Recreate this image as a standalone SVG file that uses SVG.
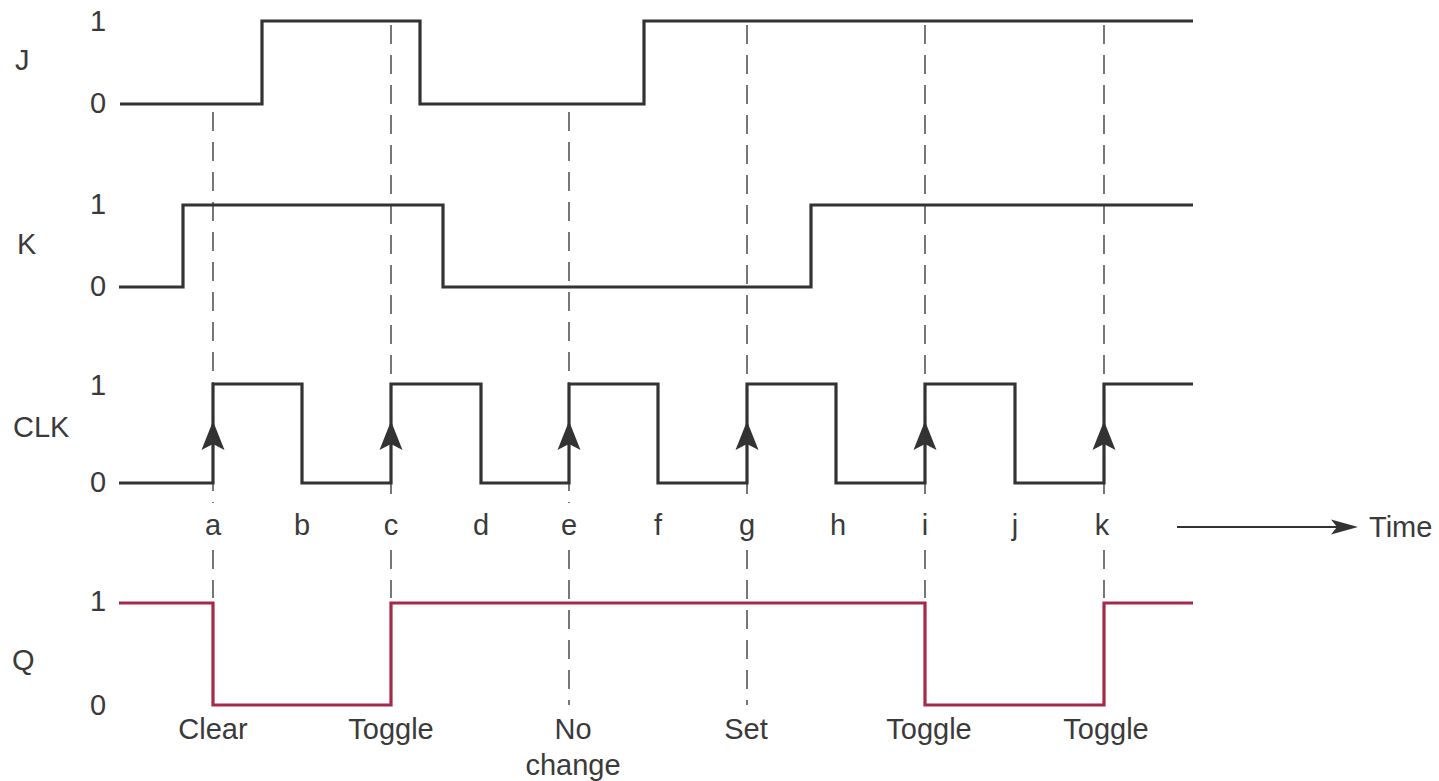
<svg xmlns="http://www.w3.org/2000/svg" width="1439" height="781" viewBox="0 0 1439 781">
<style>
text{font-family:"Liberation Sans",Arial,Helvetica,sans-serif;font-size:29px;fill:#3a3a3a}
.m{text-anchor:middle}
.sig{fill:none;stroke:#333;stroke-width:3.2;stroke-linejoin:miter;stroke-linecap:butt}
.q{fill:none;stroke:#a52a4a;stroke-width:3.2;stroke-linejoin:miter}
.dash{stroke:#555;stroke-width:1.6;stroke-dasharray:19 11;fill:none}
.ah{fill:#333}
</style>
<defs>
<path id="up" d="M0,0 L11.5,29 L0,23 L-11.5,29 Z"/>
</defs>
<rect width="1439" height="781" fill="#fff"/>

<g id="dashes">
<path class="dash" d="M213,112V503M213,550V598"/>
<path class="dash" d="M391,25V503M391,550V598"/>
<path class="dash" d="M569,112V503M569,550V705"/>
<path class="dash" d="M747,25V503M747,550V705"/>
<path class="dash" d="M925,25V503M925,550V598"/>
<path class="dash" d="M1104,25V503M1104,550V598"/>
</g>

<g id="J">
<text x="15" y="70">J</text>
<text class="m" x="98" y="31">1</text>
<text class="m" x="98" y="113">0</text>
<path class="sig" d="M120,104H262V21H420V104H644V21H1193"/>
</g>

<g id="K">
<text x="17" y="254">K</text>
<text class="m" x="98" y="214">1</text>
<text class="m" x="98" y="296">0</text>
<path class="sig" d="M119,287H183V205H443V287H811V205H1193"/>
</g>

<g id="CLK">
<text x="13" y="437">CLK</text>
<text class="m" x="98" y="395">1</text>
<text class="m" x="98" y="492">0</text>
<path class="sig" d="M119,483H213V384H302V483H391V384H481V483H569V384H658V483H747V384H836V483H925V384H1015V483H1104V384H1193"/>
<use class="ah" href="#up" x="213" y="421"/>
<use class="ah" href="#up" x="391" y="421"/>
<use class="ah" href="#up" x="569" y="421"/>
<use class="ah" href="#up" x="747" y="421"/>
<use class="ah" href="#up" x="925" y="421"/>
<use class="ah" href="#up" x="1104" y="421"/>
</g>

<g id="ticks">
<text class="m" x="213" y="535">a</text>
<text class="m" x="302" y="535">b</text>
<text class="m" x="391" y="535">c</text>
<text class="m" x="481" y="535">d</text>
<text class="m" x="569" y="535">e</text>
<text class="m" x="658" y="535">f</text>
<text class="m" x="747" y="535">g</text>
<text class="m" x="838" y="535">h</text>
<text class="m" x="925" y="535">i</text>
<text class="m" x="1015" y="535">j</text>
<text class="m" x="1102" y="535">k</text>
</g>

<g id="time">
<path d="M1177,527H1340" stroke="#333" stroke-width="2" fill="none"/>
<path class="ah" d="M1358,527L1331,519.5L1337,527L1331,534.5Z"/>
<text x="1369" y="537">Time</text>
</g>

<g id="Q">
<text x="12" y="670">Q</text>
<text class="m" x="98" y="611">1</text>
<text class="m" x="98" y="715">0</text>
<path class="q" d="M119,603H213V705H391V603H925V705H1104V603H1193"/>
</g>

<g id="labels">
<text class="m" x="213" y="739">Clear</text>
<text class="m" x="391" y="739">Toggle</text>
<text class="m" x="573" y="739">No</text>
<text class="m" x="573" y="775">change</text>
<text class="m" x="746" y="739">Set</text>
<text class="m" x="929" y="739">Toggle</text>
<text class="m" x="1106" y="739">Toggle</text>
</g>
</svg>
